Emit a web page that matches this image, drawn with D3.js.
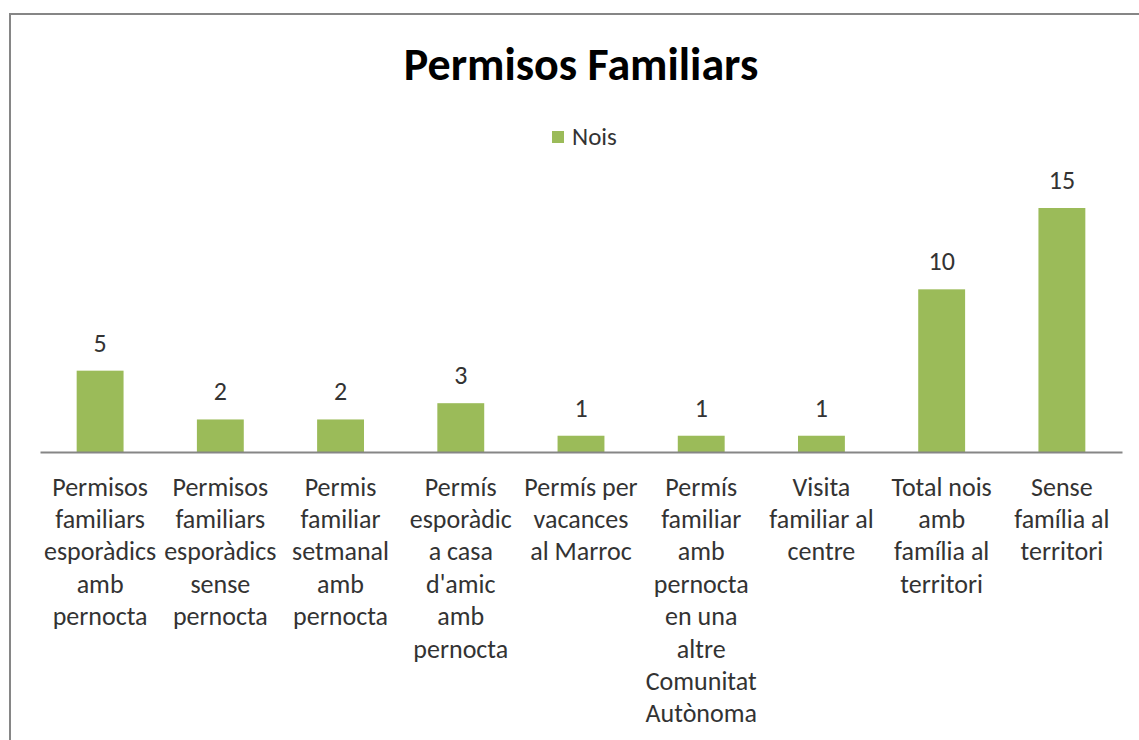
<!DOCTYPE html>
<html>
<head>
<meta charset="utf-8">
<script src="https://cdn.jsdelivr.net/npm/d3@7"></script>
<style>
  html, body { margin: 0; padding: 0; background: #fff; }
  svg { display: block; }
  .title { font-family: Carlito, Calibri, Lato, "Open Sans", sans-serif; font-weight: bold; fill: #000; }
  .txt { font-family: Carlito, Calibri, Lato, "Open Sans", sans-serif; fill: #333; }
</style>
</head>
<body>
<div id="chart"></div>
<script>
// Data
const categories = [
    ['Permisos', 'familiars', 'esporàdics', 'amb', 'pernocta'],
    ['Permisos', 'familiars', 'esporàdics', 'sense', 'pernocta'],
    ['Permis', 'familiar', 'setmanal', 'amb', 'pernocta'],
    ['Permís', 'esporàdic', 'a casa', "d'amic", 'amb', 'pernocta'],
    ['Permís per', 'vacances', 'al Marroc'],
    ['Permís', 'familiar', 'amb', 'pernocta', 'en una', 'altre', 'Comunitat', 'Autònoma'],
    ['Visita', 'familiar al', 'centre'],
    ['Total nois', 'amb', 'família al', 'territori'],
    ['Sense', 'família al', 'territori']
];
const nois = [5, 2, 2, 3, 1, 1, 1, 10, 15];
const seriesName = 'Nois';
const chartTitle = 'Permisos Familiars';

const W = 1139, H = 740;
const barColor = '#9BBB59';

const svg = d3.select('#chart').append('svg')
    .attr('width', W)
    .attr('height', H);

// outer chart border (right/bottom edges fall off the picture)
svg.append('rect')
    .attr('x', 10).attr('y', 14)
    .attr('width', W + 10).attr('height', H + 10)
    .attr('fill', 'none')
    .attr('stroke', '#868686')
    .attr('stroke-width', 2);

const x = d3.scaleBand()
    .domain(d3.range(categories.length))
    .range([40, 1122])
    .paddingInner(0.61)
    .paddingOuter(0.305);

const y = d3.scaleLinear()
    .domain([0, 15])
    .range([452, 208]);

// Title
svg.append('text')
    .attr('class', 'title')
    .attr('x', 581)
    .attr('y', 80)
    .attr('text-anchor', 'middle')
    .style('font-size', '46px')
    .text(chartTitle);

// Legend
const legend = svg.append('g');
legend.append('rect')
    .attr('x', 552).attr('y', 131)
    .attr('width', 12).attr('height', 12)
    .attr('fill', barColor);
legend.append('text')
    .attr('class', 'txt')
    .attr('x', 572)
    .attr('y', 145)
    .style('font-size', '25px')
    .text(seriesName);

// Bars
svg.append('g')
    .selectAll('rect')
    .data(nois)
    .enter().append('rect')
    .attr('x', (d, i) => x(i))
    .attr('y', d => y(d))
    .attr('width', x.bandwidth())
    .attr('height', d => y(0) - y(d))
    .attr('fill', barColor);

// Value labels
svg.append('g')
    .selectAll('text')
    .data(nois)
    .enter().append('text')
    .attr('class', 'txt')
    .attr('x', (d, i) => x(i) + x.bandwidth() / 2)
    .attr('y', d => y(d) - 19)
    .attr('text-anchor', 'middle')
    .style('font-size', '26px')
    .text(d => d);

// Category axis
const axis = svg.append('g')
    .attr('transform', `translate(0,${y(0)})`)
    .call(d3.axisBottom(x).tickSize(0).tickFormat(''));
axis.select('.domain')
    .attr('stroke', '#868686')
    .attr('stroke-width', 2);

// Wrapped category labels
const catLabels = svg.append('g')
    .selectAll('text')
    .data(categories)
    .enter().append('text')
    .attr('class', 'txt')
    .attr('text-anchor', 'middle')
    .style('font-size', '26px');

catLabels.selectAll('tspan')
    .data((d, i) => d.map(line => ({ line, i })))
    .enter().append('tspan')
    .attr('x', d => x(d.i) + x.bandwidth() / 2)
    .attr('y', (d, j) => 495.5 + j * 32.4)
    .text(d => d.line);
</script>
</body>
</html>
